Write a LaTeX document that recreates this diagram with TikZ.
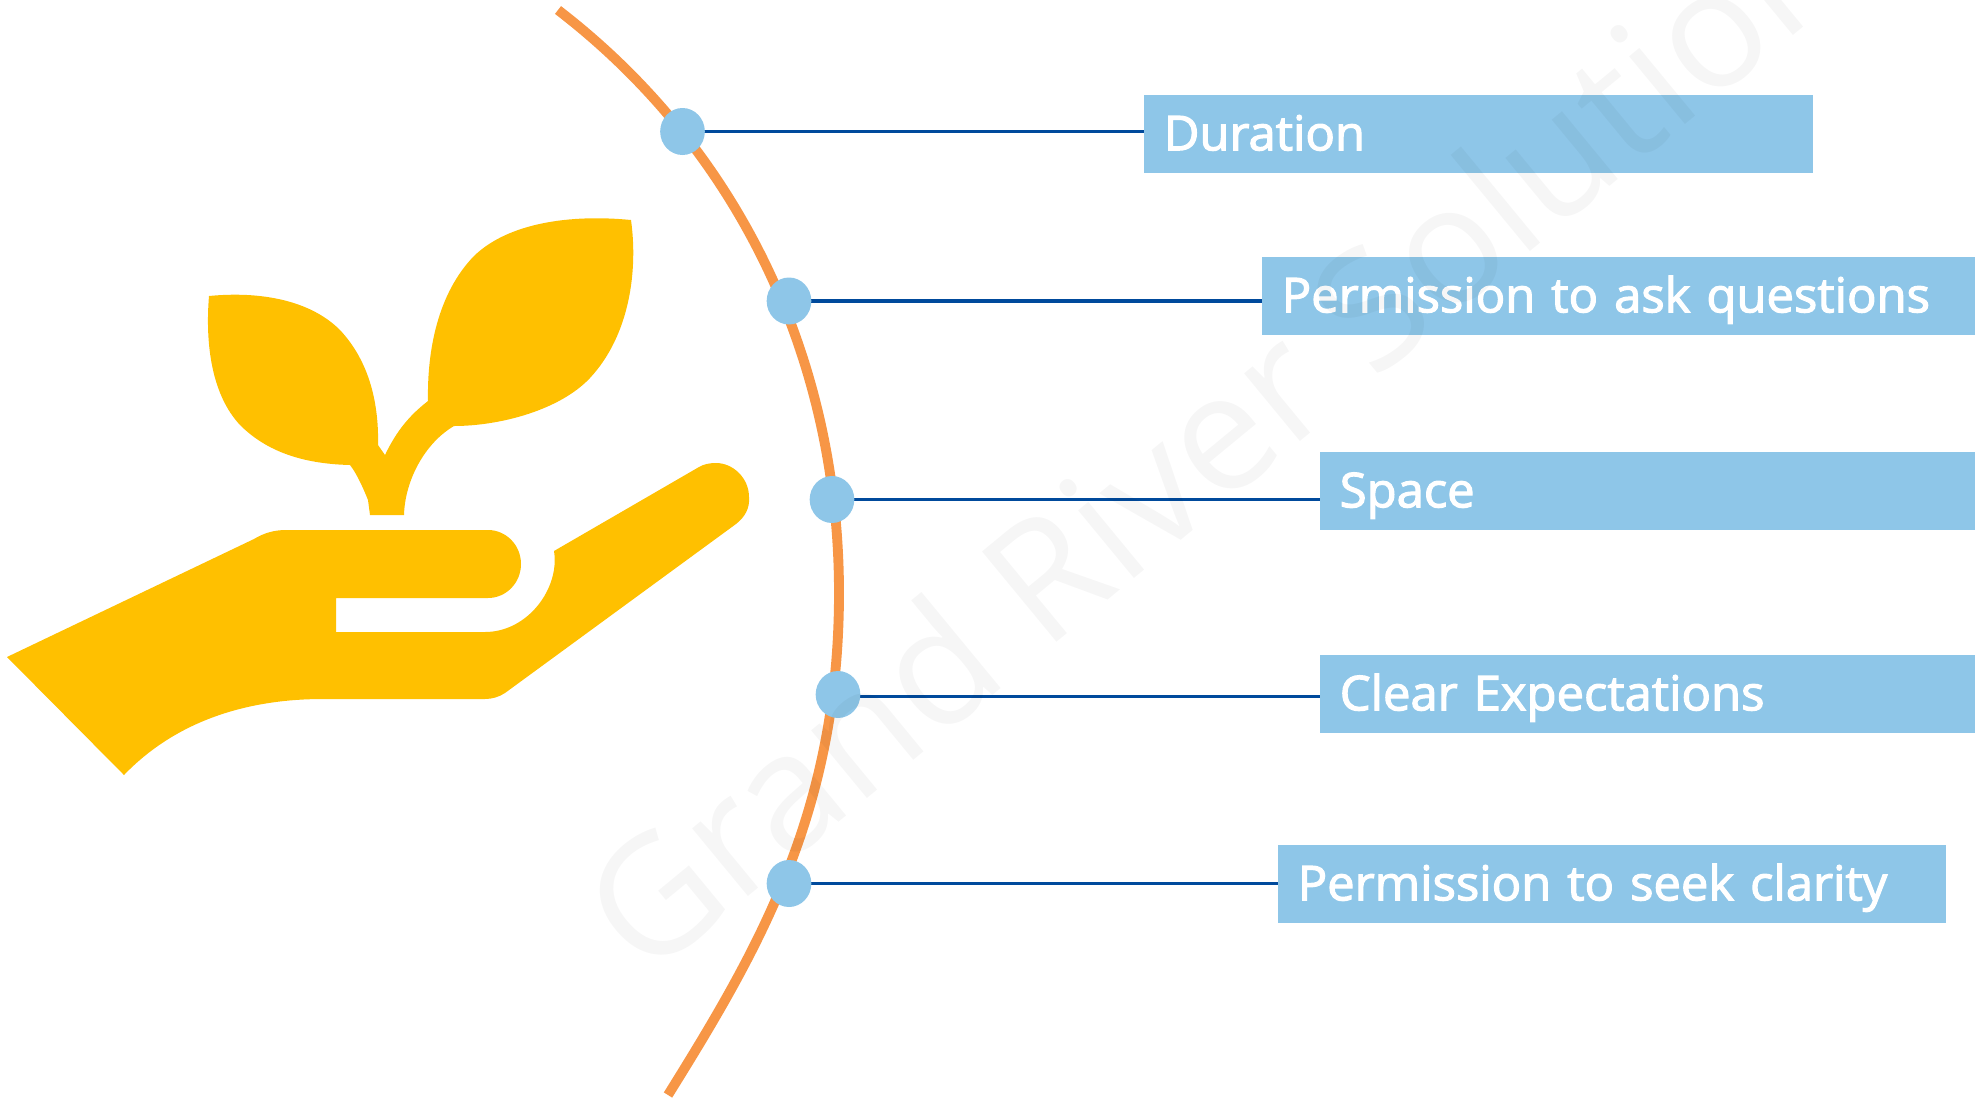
\documentclass[tikz,border=0pt]{standalone}
\usepackage{fontspec}
\usetikzlibrary{shapes.geometric,backgrounds}
\setmainfont{Open Sans}
\newfontfamily\labfont[FakeBold=2.4,FakeStretch=1.02]{Open Sans}
\definecolor{iconyellow}{HTML}{FFC000}
\definecolor{arcorange}{HTML}{F79646}
\definecolor{paleblue}{HTML}{8EC6E8}
\definecolor{linkblue}{HTML}{004A9C}
\tikzset{
  labelbox/.style={fill=paleblue,text=white,anchor=north west,align=left,inner xsep=14.625pt,inner ysep=0pt,
    text height=41.25pt,text depth=17.25pt,font=\labfont\fontsize{36}{40}\selectfont},
  dotnode/.style={ellipse,fill=paleblue,inner sep=0pt,minimum width=33.5pt,minimum height=35.25pt},
  link/.style={draw=linkblue,line width=2.9pt},
  arcline/.style={draw=arcorange,line width=7.4pt},
  icon/.style={fill=iconyellow},
  watermark/.style={text=black,text opacity=.035,rotate=39.5,anchor=base west,inner sep=0pt,font=\fontsize{123}{130}\selectfont}
}
\begin{document}
\begin{tikzpicture}[x=.75pt,y=-.75pt]
\useasboundingbox (0,0) rectangle (1975,1097);
% plant
\fill[icon] (631,220) .. controls (570,214) and (508,223) .. (474,256)
  .. controls (438,293) and (427,350) .. (428,401)
  .. controls (410,415) and (397,430) .. (385,455) -- (378,445)
  .. controls (379,405) and (370,362) .. (340,330)
  .. controls (310,300) and (260,291) .. (209,296)
  .. controls (205,345) and (212,395) .. (240,425)
  .. controls (270,455) and (310,464) .. (350,465)
  .. controls (358,475) and (366,495) .. (368,500) -- (370,515) -- (404,515)
  .. controls (405,480) and (425,443) .. (454,426)
  .. controls (500,426) and (560,410) .. (590,378)
  .. controls (630,335) and (638,270) .. (631,220) -- cycle;
% hand
\fill[icon] (7,657) -- (124,775)
  .. controls (175,722) and (245,699) .. (323,699) -- (485,699)
  .. controls (492,699) and (499,697) .. (505,693) -- (736,524)
  .. controls (745,517) and (750,508) .. (749,497)
  .. controls (749,478) and (733,463) .. (716,463)
  .. controls (710,463) and (704,464) .. (699,467) -- (554,551)
  .. controls (560,588) and (528,632) .. (485,632) -- (336,632) -- (336,598) -- (488,598)
  .. controls (506,598) and (521,583) .. (521,564)
  .. controls (521,545) and (506,530) .. (488,530) -- (286,530)
  .. controls (274,530) and (264,533) .. (254,539) -- cycle;
% boxes
\node[labelbox,text width=472.5pt] (b1) at (1144,95) {Duration};
\node[labelbox,text width=505.5pt] (b2) at (1262,257) {Permission to ask questions};
\node[labelbox,text width=462pt] (b3) at (1320,452) {Space};
\node[labelbox,text width=462pt] (b4) at (1320,655) {Clear Expectations};
\node[labelbox,text width=471.75pt] (b5) at (1278,845) {Permission to seek clarity};
% dots
\node[dotnode] (d1) at (682.5,131.5) {};
\node[dotnode] (d2) at (789,301) {};
\node[dotnode] (d3) at (832,499.5) {};
\node[dotnode] (d4) at (838,694.5) {};
\node[dotnode] (d5) at (789,883.5) {};
\coordinate (l4) at (838,696.5);
\begin{scope}[on background layer]
  \draw[arcline] (558,10) .. controls (740,150) and (839,361) .. (839,593)
     .. controls (839,812) and (758,950.5) .. (668,1095);
  \draw[link] (d1.center) -- (d1.center -| b1.west);
  \draw[link] (d2.center) -- (d2.center -| b2.west);
  \draw[link] (d3.center) -- (d3.center -| b3.west);
  \draw[link] (l4) -- (l4 -| b4.west);
  \draw[link] (d5.center) -- (d5.center -| b5.west);
\end{scope}
% watermark
\begin{scope}
  \clip (0,0) rectangle (1975,1097);
  \node[watermark] (wm) at (645,982) {Grand River Solutions};
\end{scope}
\end{tikzpicture}
\end{document}
